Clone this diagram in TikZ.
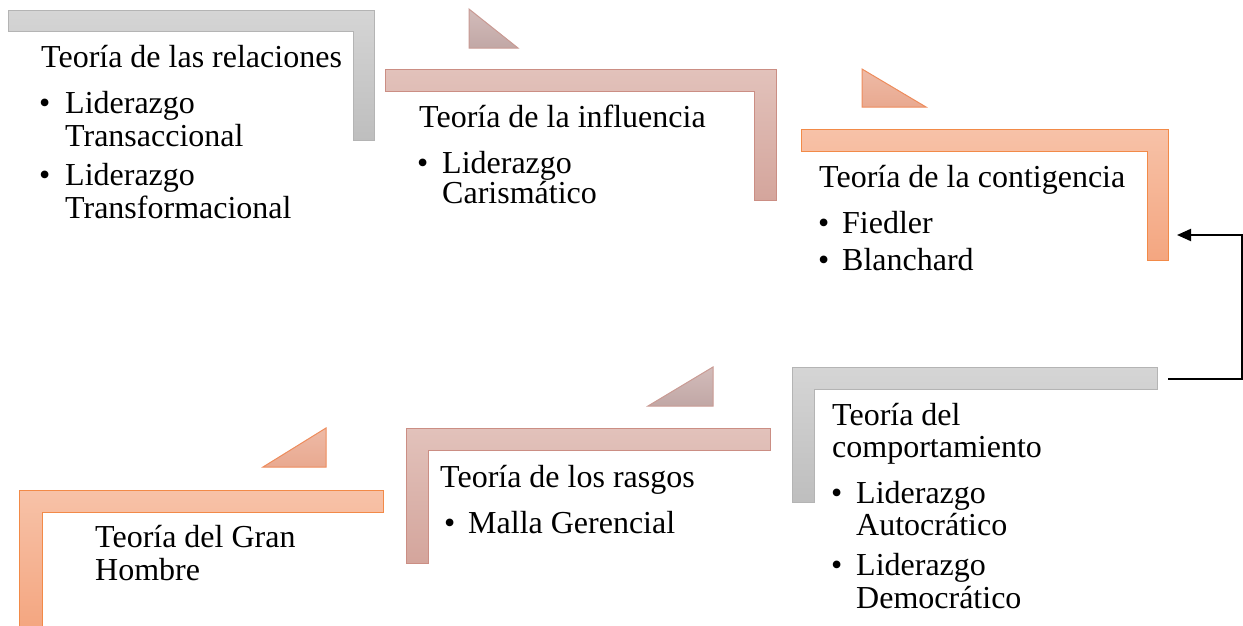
\documentclass[tikz,border=0pt]{standalone}
\usepackage{fontspec}
\setmainfont{Liberation Serif}
\usetikzlibrary{arrows.meta}
\definecolor{grayT}{HTML}{D5D5D5}
\definecolor{grayB}{HTML}{BEBEBE}
\definecolor{grayL}{HTML}{B4B4B4}
\definecolor{roseT}{HTML}{E2C2BB}
\definecolor{roseB}{HTML}{D4A59C}
\definecolor{roseL}{HTML}{CB8E84}
\definecolor{orT}{HTML}{F7C2A8}
\definecolor{orB}{HTML}{F4A680}
\definecolor{orL}{HTML}{F28A48}
\definecolor{triA}{HTML}{CBB0AE}
\definecolor{triAL}{HTML}{C99A93}
\definecolor{triB}{HTML}{E9A990}
\definecolor{triBL}{HTML}{EE8C5C}
\tikzset{
  grayshape/.style={draw=grayL, line width=1pt, top color=grayT, bottom color=grayB},
  roseshape/.style={draw=roseL, line width=1pt, top color=roseT, bottom color=roseB},
  orshape/.style={draw=orL, line width=1pt, top color=orT, bottom color=orB},
  trirose/.style={draw=triAL, line width=1pt, top color=triA!85!white, bottom color=triA!95!black},
  trior/.style={draw=triBL, line width=1pt, top color=triB!80!white, bottom color=triB},
  lbl/.style={anchor=base west, inner sep=0pt, font=\fontsize{32}{33}\selectfont},
  conn/.style={line width=2pt, -{Triangle[length=14pt,width=12pt]}}
}
\begin{document}
\begin{tikzpicture}[x=1pt,y=-1pt]
\useasboundingbox (0,0) rectangle (1243,625);
% bracket shapes
\path[grayshape] (8,10) -- (374,10) -- (374,140) -- (353,140) -- (353,31) -- (8,31) -- cycle;
\path[roseshape] (385,69) -- (776,69) -- (776,200) -- (754,200) -- (754,91) -- (385,91) -- cycle;
\path[orshape] (801,129) -- (1168,129) -- (1168,260) -- (1147,260) -- (1147,151) -- (801,151) -- cycle;
\path[grayshape] (1157,367) -- (792,367) -- (792,502) -- (814,502) -- (814,389) -- (1157,389) -- cycle;
\path[roseshape] (770,428) -- (406,428) -- (406,563) -- (428,563) -- (428,450) -- (770,450) -- cycle;
\path[orshape] (383,490) -- (19,490) -- (19,628) -- (42,628) -- (42,512) -- (383,512) -- cycle;
% triangles
\path[trirose] (469,9) -- (469,48) -- (518,48) -- cycle;
\path[trior] (862,69) -- (862,107) -- (926,107) -- cycle;
\path[trirose] (713,367) -- (713,406) -- (648,406) -- cycle;
\path[trior] (326,428) -- (326,467) -- (263,467) -- cycle;
% texts: shape 1
\node[lbl] (t1) at (41,67) {Teoría de las relaciones};
\node[lbl] (t1b1) at (39,113) {•};
\node[lbl] (t1i1) at (65,113) {Liderazgo};
\node[lbl] (t1i1b) at (65,146) {Transaccional};
\node[lbl] (t1b2) at (39,185) {•};
\node[lbl] (t1i2) at (65,185) {Liderazgo};
\node[lbl] (t1i2b) at (65,218) {Transformacional};
% shape 2
\node[lbl] (t2) at (419,127) {Teoría de la influencia};
\node[lbl] (t2b1) at (417,173) {•};
\node[lbl] (t2i1) at (442,173) {Liderazgo};
\node[lbl] (t2i1b) at (442,203) {Carismático};
% shape 3
\node[lbl] (t3) at (819,187) {Teoría de la contigencia};
\node[lbl] (t3b1) at (818,233) {•};
\node[lbl] (t3i1) at (842,233) {Fiedler};
\node[lbl] (t3b2) at (818,270) {•};
\node[lbl] (t3i2) at (842,270) {Blanchard};
% shape 4
\node[lbl] (t4) at (832,425) {Teoría del};
\node[lbl] (t4b) at (832,457) {comportamiento};
\node[lbl] (t4b1) at (831,503) {•};
\node[lbl] (t4i1) at (856,503) {Liderazgo};
\node[lbl] (t4i1b) at (856,535) {Autocrático};
\node[lbl] (t4b2) at (831,575) {•};
\node[lbl] (t4i2) at (856,575) {Liderazgo};
\node[lbl] (t4i2b) at (856,608) {Democrático};
% shape 5
\node[lbl] (t5) at (440,487) {Teoría de los rasgos};
\node[lbl] (t5b1) at (444,533) {•};
\node[lbl] (t5i1) at (468,533) {Malla Gerencial};
% shape 6
\node[lbl] (t6) at (95,547) {Teoría del Gran};
\node[lbl] (t6b) at (95,580) {Hombre};
% connector
\coordinate (c4) at (1168,379);
\coordinate (c3) at (1177,235);
\draw[conn] (c4) -- ++(74,0) |- (c3);
\end{tikzpicture}
\end{document}
